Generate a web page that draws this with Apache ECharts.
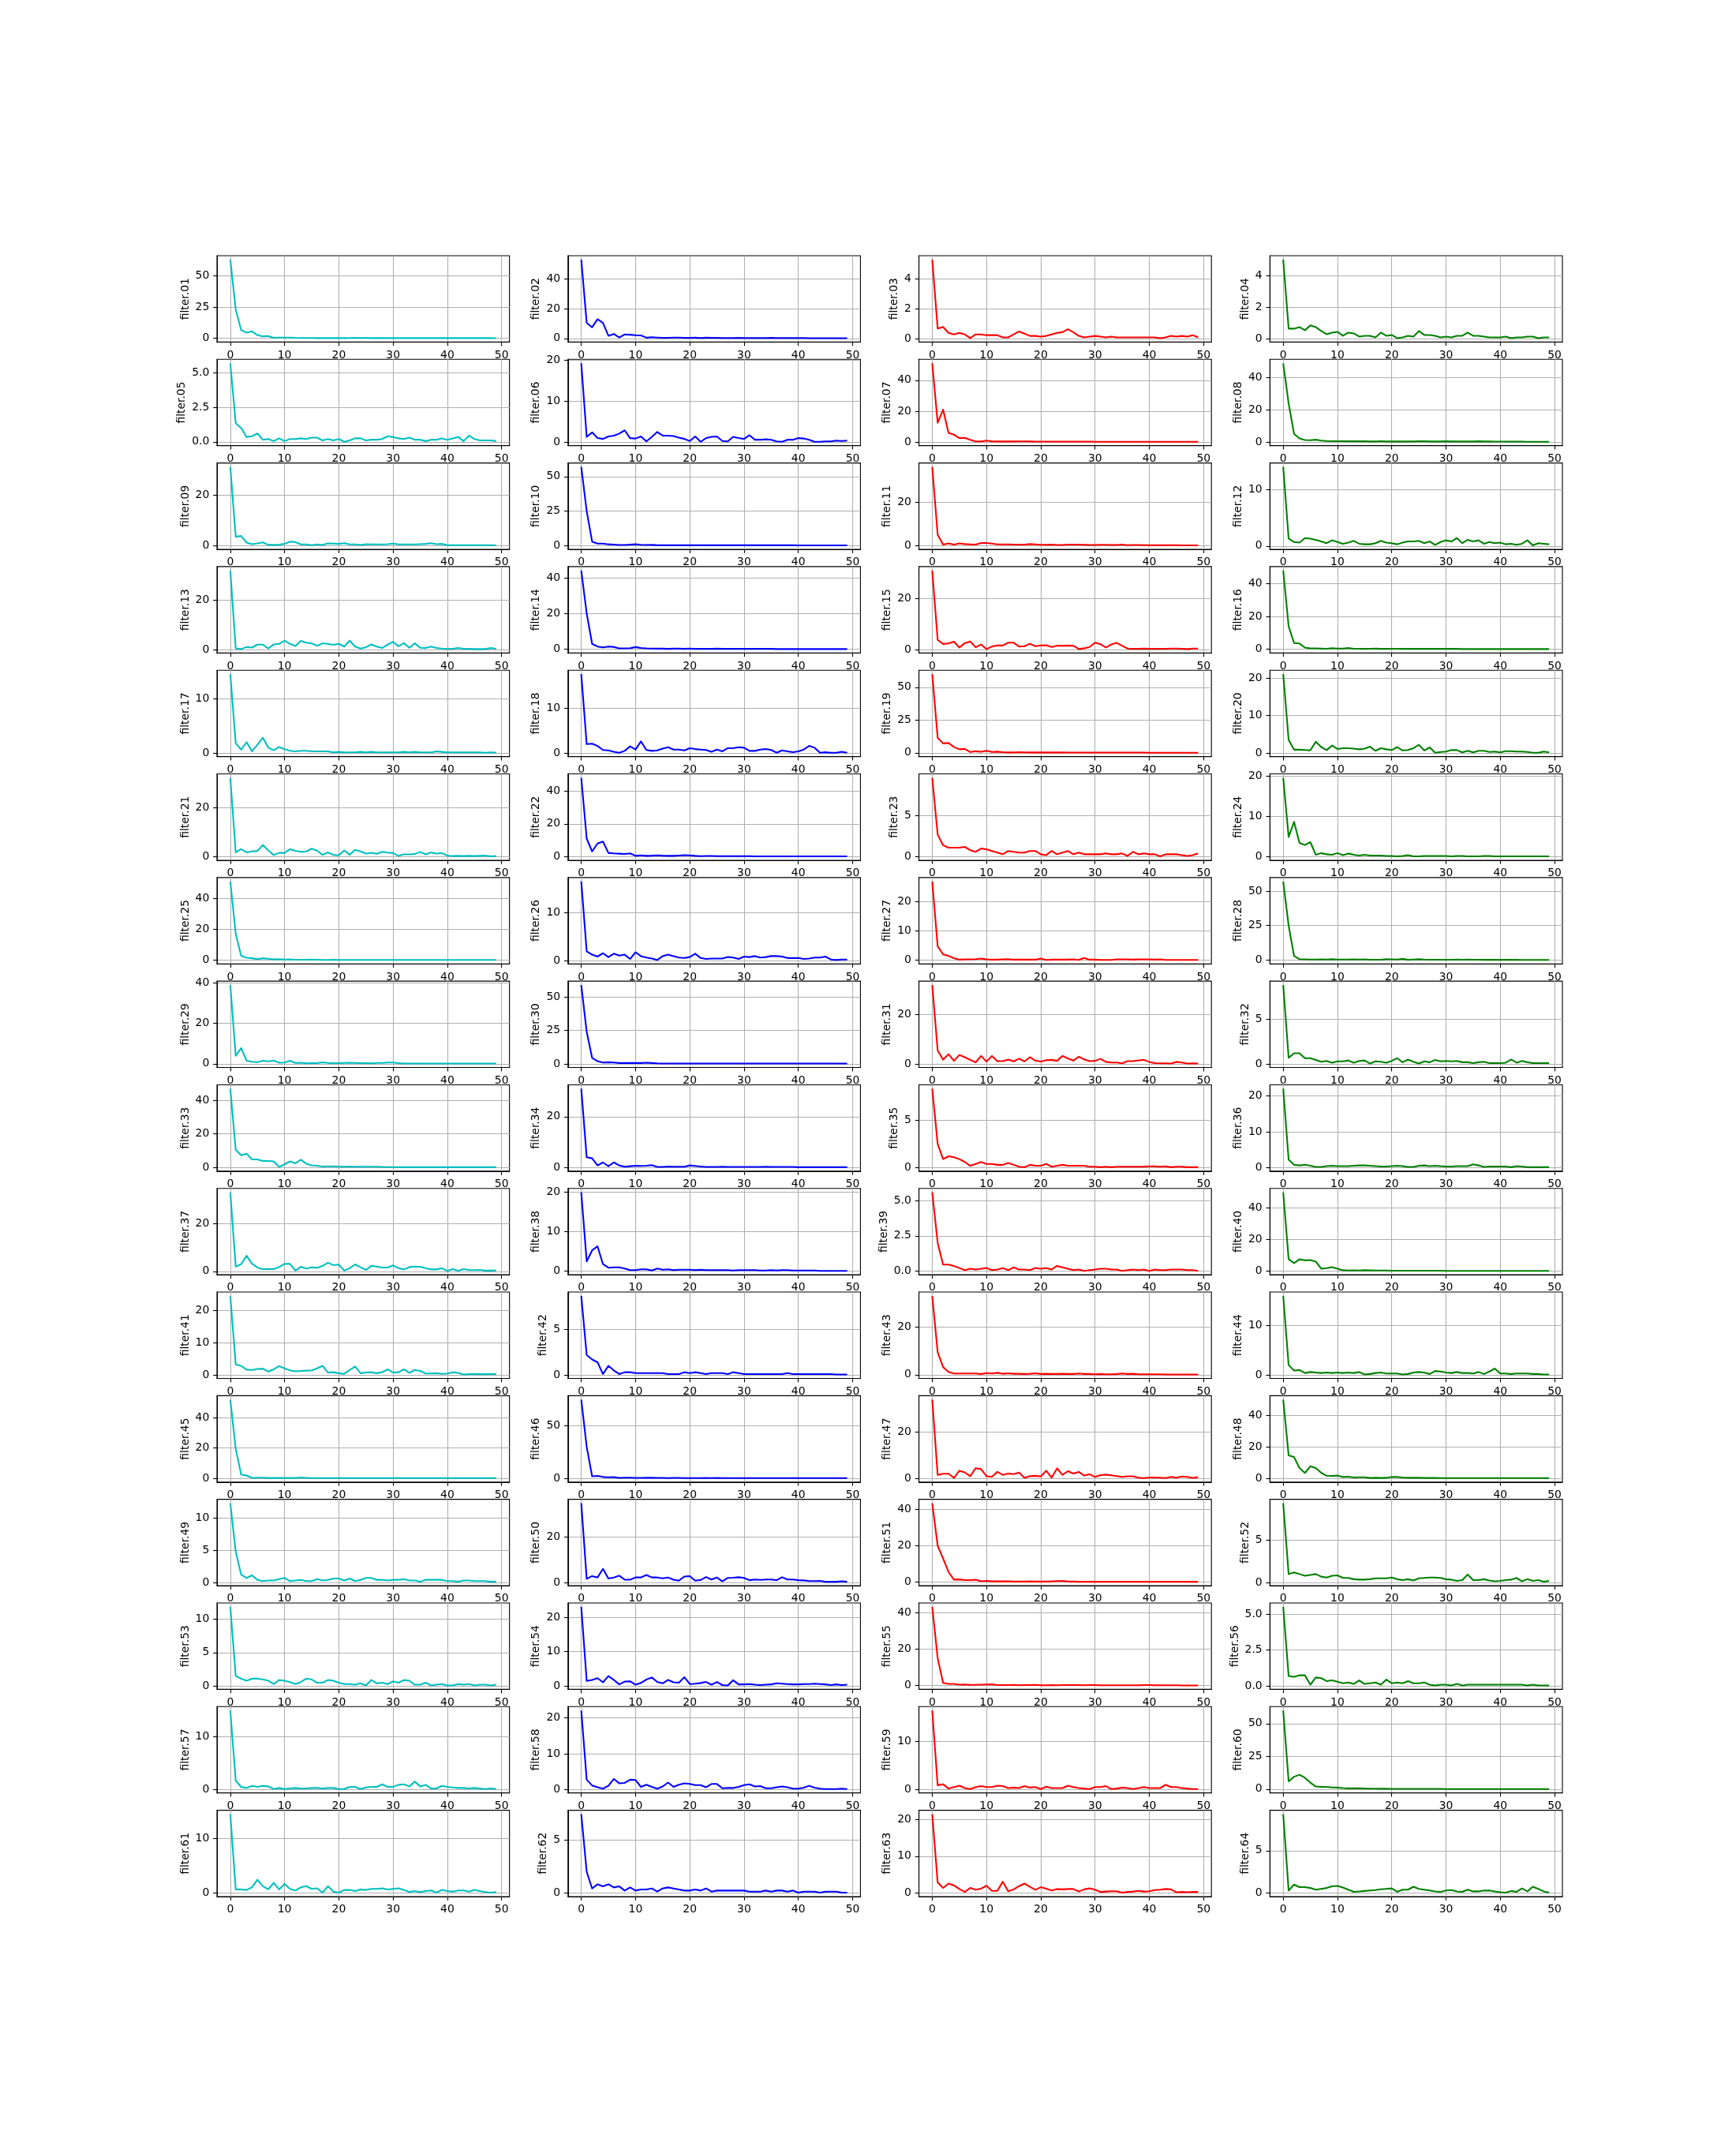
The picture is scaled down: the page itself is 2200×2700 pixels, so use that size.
<!DOCTYPE html>
<html><head><meta charset="utf-8">
<script src="https://cdn.jsdelivr.net/npm/echarts@6/dist/echarts.min.js"></script>
<style>html,body{margin:0;padding:0;background:#fff}#c{width:2200px;height:2700px}</style>
</head><body><div id="c"></div>
<script>
// ---- data (50 samples per filter, x = 0..49) ----
const f01=[63,23,6.5,4.5,5.5,2.5,1.5,1.8,0.3,0.5,0.5,0.5,0.3,0.2,0.2,0.2,0.1,0.1,0.2,0.1,0.1,0.1,0.2,0.3,0.1,0.3,0.1,0.1,0.1,0.1,0.1,0.1,0.1,0.1,0.1,0.1,0.1,0.1,0.1,0.1,0.1,0.1,0.1,0.1,0.1,0.1,0.1,0.1,0.1,0.05];
const f02=[53,10.5,7.5,13,10.5,1.8,3.0,0.6,2.7,2.5,2.2,2.0,0.5,0.8,0.6,0.4,0.4,0.6,0.6,0.4,0.4,0.5,0.3,0.5,0.4,0.4,0.3,0.3,0.3,0.4,0.3,0.3,0.3,0.3,0.3,0.4,0.3,0.3,0.3,0.3,0.3,0.3,0.2,0.2,0.2,0.2,0.2,0.2,0.2,0.2];
const f03=[5.3,0.7,0.8,0.4,0.3,0.4,0.3,0.05,0.3,0.3,0.25,0.25,0.25,0.1,0.1,0.3,0.5,0.35,0.2,0.2,0.15,0.2,0.3,0.4,0.45,0.65,0.45,0.2,0.1,0.15,0.2,0.15,0.1,0.15,0.1,0.1,0.1,0.1,0.1,0.1,0.1,0.1,0.05,0.1,0.2,0.15,0.2,0.15,0.25,0.1];
const f04=[5.0,0.65,0.65,0.75,0.55,0.85,0.75,0.5,0.3,0.4,0.45,0.2,0.4,0.35,0.15,0.2,0.2,0.1,0.4,0.2,0.25,0.05,0.1,0.2,0.15,0.5,0.25,0.25,0.2,0.1,0.15,0.1,0.2,0.2,0.4,0.2,0.2,0.15,0.1,0.1,0.1,0.15,0.05,0.1,0.1,0.15,0.15,0.05,0.1,0.1];
const f05=[5.7,1.35,1.0,0.35,0.4,0.6,0.15,0.2,0.05,0.25,0.05,0.2,0.2,0.25,0.2,0.3,0.3,0.1,0.2,0.1,0.2,0.0,0.1,0.25,0.25,0.1,0.15,0.15,0.2,0.4,0.35,0.25,0.2,0.3,0.15,0.15,0.05,0.15,0.15,0.25,0.15,0.25,0.35,0.05,0.45,0.2,0.1,0.1,0.1,0.05];
const f06=[19.3,1.3,2.4,1.0,0.8,1.4,1.6,2.1,2.9,1.0,0.9,1.4,0.2,1.3,2.5,1.6,1.6,1.5,1.1,0.8,0.3,1.4,0.1,1.0,1.3,1.4,0.3,0.2,1.3,1.0,0.8,1.7,0.6,0.6,0.7,0.6,0.2,0.1,0.6,0.6,1.0,0.9,0.6,0.1,0.1,0.2,0.2,0.4,0.3,0.4];
const f07=[51,12.5,21,6.0,4.8,2.6,2.7,1.5,0.5,0.4,1.0,0.5,0.4,0.4,0.4,0.4,0.5,0.5,0.4,0.3,0.3,0.3,0.3,0.3,0.3,0.3,0.3,0.3,0.3,0.3,0.2,0.2,0.2,0.2,0.2,0.2,0.2,0.2,0.2,0.2,0.2,0.2,0.2,0.2,0.2,0.2,0.2,0.2,0.2,0.2];
const f08=[49,24,5.0,2.2,1.2,1.1,1.4,0.8,0.6,0.5,0.5,0.5,0.4,0.4,0.4,0.5,0.3,0.3,0.5,0.3,0.3,0.3,0.3,0.3,0.3,0.5,0.4,0.3,0.3,0.3,0.4,0.3,0.3,0.3,0.3,0.3,0.4,0.3,0.3,0.2,0.2,0.2,0.2,0.2,0.2,0.1,0.1,0.1,0.1,0.1];
const f09=[31,3.5,3.8,1.2,0.6,0.9,1.3,0.3,0.3,0.4,0.7,1.6,1.4,0.5,0.5,0.2,0.5,0.3,0.9,0.8,0.7,1.0,0.5,0.5,0.3,0.6,0.5,0.5,0.5,0.6,0.8,0.5,0.5,0.5,0.5,0.6,0.7,1.0,0.6,0.7,0.2,0.2,0.2,0.2,0.2,0.2,0.2,0.2,0.2,0.1];
const f10=[57,25,3.0,1.5,1.5,1.0,0.8,0.5,0.5,0.8,1.0,0.7,0.5,0.6,0.3,0.3,0.3,0.3,0.3,0.4,0.3,0.4,0.4,0.3,0.3,0.3,0.3,0.3,0.3,0.4,0.3,0.3,0.3,0.3,0.3,0.4,0.3,0.3,0.3,0.3,0.2,0.2,0.2,0.2,0.2,0.2,0.2,0.2,0.2,0.2];
const f11=[36,5.0,0.5,1.0,0.5,1.0,0.7,0.6,0.5,1.2,1.2,0.9,0.6,0.6,0.6,0.5,0.5,0.5,0.7,0.6,0.4,0.4,0.5,0.3,0.3,0.5,0.5,0.5,0.4,0.3,0.3,0.4,0.4,0.3,0.3,0.5,0.2,0.3,0.3,0.2,0.2,0.2,0.2,0.2,0.2,0.2,0.1,0.1,0.1,0.1];
const f12=[14,1.3,0.7,0.6,1.4,1.3,1.1,0.8,0.5,1.0,0.7,0.4,0.6,0.9,0.4,0.3,0.3,0.5,0.9,0.6,0.5,0.3,0.6,0.8,0.8,0.9,0.5,0.8,0.2,0.7,1.0,0.8,1.4,0.5,1.1,0.8,1.0,0.4,0.7,0.5,0.6,0.3,0.4,0.2,0.4,1.0,0.1,0.5,0.4,0.3];
const f13=[32,0.5,0.2,1.0,0.8,2.0,2.0,0.4,2.1,2.3,3.6,2.3,1.4,3.5,2.8,2.5,1.5,2.5,2.3,1.9,2.3,1.2,3.6,1.2,0.4,0.9,2.1,1.2,0.6,2.0,3.1,1.3,2.6,0.7,2.5,0.7,0.6,1.2,0.6,0.4,0.3,0.3,0.6,0.3,0.3,0.2,0.2,0.2,0.6,0.3];
const f14=[44,20,3.0,1.5,1.0,1.5,1.3,0.5,0.5,0.6,1.2,0.7,0.5,0.4,0.3,0.3,0.2,0.3,0.3,0.2,0.4,0.2,0.2,0.2,0.2,0.3,0.2,0.2,0.2,0.2,0.2,0.2,0.2,0.2,0.2,0.2,0.1,0.1,0.1,0.1,0.1,0.1,0.1,0.1,0.1,0.1,0.1,0.1,0.1,0.1];
const f15=[31,3.8,2.2,2.4,3.1,0.8,2.5,3.2,0.9,2.0,0.2,1.2,1.6,1.6,2.7,2.7,1.2,1.3,2.3,1.3,1.6,1.7,1.0,1.5,1.5,1.6,1.5,0.2,0.5,1.0,2.7,2.1,0.8,2.0,2.6,1.5,0.4,0.3,0.3,0.4,0.3,0.3,0.3,0.3,0.4,0.4,0.3,0.2,0.4,0.4];
const f16=[48,14,3.8,3.5,1.0,0.5,0.5,0.4,0.3,0.6,0.4,0.4,0.8,0.3,0.3,0.2,0.3,0.4,0.2,0.2,0.3,0.3,0.2,0.2,0.2,0.2,0.2,0.3,0.2,0.2,0.2,0.2,0.2,0.1,0.1,0.1,0.1,0.1,0.1,0.1,0.1,0.1,0.1,0.1,0.1,0.1,0.1,0.1,0.1,0.1];
const f17=[14.5,1.8,0.6,2.0,0.3,1.5,2.8,1.0,0.5,1.1,0.7,0.4,0.3,0.4,0.4,0.3,0.3,0.3,0.3,0.1,0.2,0.1,0.1,0.1,0.2,0.1,0.2,0.1,0.1,0.1,0.1,0.1,0.2,0.1,0.2,0.1,0.1,0.1,0.3,0.2,0.1,0.1,0.1,0.1,0.1,0.1,0.1,0.05,0.1,0.05];
const f18=[17.5,2.0,2.1,1.6,0.7,0.6,0.3,0.1,0.5,1.5,0.8,2.6,0.7,0.5,0.6,1.0,1.3,0.8,0.8,0.6,1.1,0.9,0.8,0.7,0.3,0.8,0.4,1.1,1.1,1.3,1.2,0.5,0.5,0.8,0.9,0.7,0.1,0.6,0.4,0.2,0.4,0.8,1.6,1.2,0.1,0.2,0.1,0.1,0.3,0.1];
const f19=[60,11.5,7.2,7.5,4.5,2.7,3.0,0.6,1.2,0.8,1.6,0.7,0.9,0.5,0.3,0.4,0.5,0.4,0.3,0.3,0.3,0.3,0.3,0.3,0.3,0.2,0.2,0.2,0.2,0.2,0.2,0.2,0.2,0.2,0.2,0.2,0.2,0.2,0.2,0.2,0.1,0.1,0.1,0.1,0.1,0.1,0.1,0.1,0.1,0.1];
const f20=[21,3.5,0.9,0.9,0.8,0.7,3.0,1.6,0.8,2.0,1.1,1.3,1.3,1.2,1.0,1.2,1.7,0.6,1.3,1.0,0.8,1.6,0.7,0.8,1.3,2.2,0.7,1.5,0.1,0.3,0.4,0.8,0.8,0.2,0.6,0.2,0.6,0.6,0.3,0.4,0.2,0.5,0.5,0.4,0.4,0.3,0.1,0.1,0.4,0.2];
const f21=[32,1.8,3.1,1.8,2.2,2.4,4.8,2.6,0.7,1.6,1.6,3.1,2.4,2.0,2.2,3.3,2.5,0.8,1.8,0.8,0.6,2.6,0.8,2.8,2.2,1.3,1.6,1.2,2.0,1.7,1.5,0.4,1.0,1.0,1.1,2.0,1.0,1.8,1.3,1.5,0.5,0.3,0.4,0.3,0.4,0.3,0.4,0.5,0.2,0.3];
const f22=[48,11,3.2,8.0,9.2,2.3,2.0,1.8,1.6,2.0,0.5,0.8,0.5,0.6,0.8,0.6,0.5,0.5,0.7,0.9,0.8,0.5,0.3,0.4,0.4,0.3,0.3,0.3,0.3,0.3,0.3,0.3,0.2,0.2,0.2,0.2,0.2,0.2,0.2,0.2,0.2,0.2,0.2,0.2,0.2,0.2,0.2,0.2,0.2,0.2];
const f23=[9.6,2.7,1.4,1.1,1.1,1.1,1.2,0.8,0.6,1.0,0.9,0.7,0.5,0.3,0.7,0.6,0.5,0.5,0.7,0.7,0.3,0.2,0.7,0.3,0.5,0.7,0.3,0.5,0.3,0.3,0.3,0.3,0.4,0.3,0.3,0.4,0.1,0.6,0.3,0.4,0.3,0.3,0.05,0.3,0.3,0.3,0.2,0.1,0.2,0.4];
const f24=[19.5,4.9,8.6,3.4,2.9,3.6,0.5,0.9,0.6,0.5,0.9,0.4,0.8,0.5,0.3,0.5,0.3,0.3,0.3,0.2,0.2,0.1,0.2,0.4,0.1,0.1,0.2,0.2,0.2,0.2,0.2,0.1,0.2,0.2,0.1,0.1,0.1,0.2,0.2,0.1,0.1,0.1,0.1,0.1,0.1,0.1,0.1,0.1,0.1,0.1];
const f25=[51,17,2.8,1.5,1.2,0.6,1.2,0.9,0.5,0.6,0.4,0.5,0.2,0.2,0.2,0.3,0.2,0.1,0.1,0.2,0.1,0.1,0.1,0.1,0.1,0.1,0.1,0.1,0.1,0.1,0.1,0.1,0.1,0.1,0.1,0.1,0.1,0.1,0.1,0.1,0.1,0.1,0.1,0.1,0.1,0.1,0.1,0.1,0.1,0.1];
const f26=[16.5,2.0,1.3,0.9,1.6,0.8,1.5,1.1,1.3,0.4,1.8,1.0,0.7,0.5,0.2,1.0,1.3,1.0,0.7,0.6,0.8,1.5,0.6,0.4,0.5,0.5,0.5,0.8,0.7,0.4,0.9,0.8,1.0,0.7,0.8,1.0,1.0,0.9,0.6,0.6,0.6,0.4,0.5,0.7,0.7,0.9,0.3,0.2,0.3,0.3];
const f27=[27,4.8,2.0,1.5,0.7,0.2,0.3,0.3,0.4,0.6,0.3,0.2,0.2,0.3,0.4,0.2,0.2,0.2,0.2,0.2,0.6,0.1,0.2,0.2,0.2,0.2,0.3,0.1,0.8,0.2,0.2,0.1,0.1,0.1,0.3,0.3,0.3,0.2,0.3,0.3,0.3,0.2,0.3,0.1,0.1,0.1,0.1,0.1,0.1,0.1];
const f28=[57,25,3.0,0.6,0.5,0.4,0.4,0.5,0.4,0.6,0.4,0.4,0.4,0.5,0.4,0.5,0.3,0.3,0.3,0.6,0.5,0.4,0.9,0.2,0.4,0.6,0.4,0.3,0.3,0.3,0.3,0.3,0.4,0.3,0.4,0.3,0.3,0.2,0.2,0.2,0.2,0.2,0.2,0.2,0.1,0.1,0.1,0.1,0.1,0.1];
const f29=[39,4.0,7.8,1.5,1.0,0.8,1.5,1.2,1.6,0.5,0.6,1.5,0.4,0.5,0.2,0.3,0.3,0.7,0.4,0.2,0.3,0.4,0.5,0.4,0.3,0.3,0.2,0.4,0.4,0.6,0.6,0.3,0.1,0.1,0.1,0.1,0.1,0.1,0.1,0.1,0.1,0.1,0.1,0.1,0.1,0.1,0.1,0.1,0.1,0.1];
const f30=[59,24,4.5,2.0,1.0,1.2,1.0,0.6,0.7,0.6,0.6,0.6,0.8,0.6,0.4,0.3,0.3,0.3,0.3,0.3,0.3,0.3,0.3,0.3,0.3,0.3,0.3,0.3,0.3,0.3,0.2,0.2,0.2,0.2,0.2,0.2,0.2,0.2,0.2,0.2,0.2,0.2,0.2,0.2,0.2,0.2,0.2,0.2,0.2,0.2];
const f31=[32,5.5,1.8,4.0,1.3,3.7,2.8,1.7,0.7,3.3,1.0,3.3,1.2,1.2,1.8,1.1,2.2,1.1,2.8,1.4,1.0,1.6,1.7,1.3,3.3,2.3,1.4,3.0,1.9,1.2,1.3,2.1,0.9,0.6,0.6,0.3,1.2,1.2,1.5,1.7,0.9,0.4,0.3,0.3,0.2,0.9,0.6,0.2,0.3,0.2];
const f32=[8.8,0.7,1.2,1.2,0.65,0.65,0.45,0.25,0.35,0.15,0.3,0.3,0.4,0.15,0.35,0.4,0.05,0.3,0.25,0.15,0.35,0.65,0.2,0.5,0.25,0.05,0.3,0.2,0.45,0.3,0.35,0.3,0.35,0.2,0.2,0.1,0.2,0.25,0.1,0.1,0.1,0.15,0.5,0.15,0.35,0.2,0.1,0.1,0.1,0.1];
const f33=[47,10.5,7.2,8.2,4.8,4.8,3.8,3.8,3.6,0.3,1.8,3.6,2.4,4.6,2.2,1.2,1.0,0.5,0.6,0.6,0.5,0.4,0.5,0.4,0.4,0.4,0.4,0.4,0.3,0.2,0.2,0.2,0.1,0.1,0.1,0.1,0.1,0.1,0.1,0.1,0.1,0.1,0.1,0.1,0.1,0.1,0.1,0.1,0.1,0.1];
const f34=[31,4.0,3.6,0.8,2.0,0.5,2.0,0.8,0.3,0.5,0.7,0.6,0.7,0.9,0.2,0.2,0.4,0.3,0.3,0.3,0.8,0.6,0.4,0.2,0.2,0.2,0.3,0.2,0.2,0.2,0.2,0.2,0.2,0.2,0.3,0.2,0.2,0.2,0.2,0.2,0.1,0.1,0.1,0.1,0.1,0.1,0.1,0.1,0.1,0.1];
const f35=[8.3,2.5,0.9,1.2,1.1,0.9,0.6,0.2,0.4,0.6,0.4,0.4,0.3,0.3,0.5,0.3,0.1,0.05,0.3,0.2,0.2,0.4,0.1,0.2,0.3,0.2,0.2,0.2,0.2,0.1,0.1,0.05,0.1,0.05,0.1,0.1,0.1,0.1,0.1,0.1,0.15,0.15,0.1,0.15,0.05,0.1,0.1,0.05,0.05,0.05];
const f36=[22,2.2,0.8,0.6,0.8,0.5,0.2,0.2,0.4,0.5,0.4,0.4,0.4,0.5,0.6,0.6,0.5,0.4,0.3,0.3,0.4,0.5,0.4,0.2,0.2,0.5,0.6,0.4,0.5,0.4,0.3,0.3,0.4,0.4,0.4,0.9,0.6,0.2,0.3,0.3,0.3,0.3,0.1,0.4,0.3,0.1,0.1,0.1,0.1,0.1];
const f37=[33,2.0,3.0,6.5,3.2,1.6,0.9,1.0,0.9,1.8,3.1,3.1,0.3,1.9,1.2,1.7,1.4,2.3,3.6,2.6,2.8,0.3,1.3,2.9,1.7,0.6,2.3,2.0,1.6,1.6,2.5,1.3,0.8,1.8,2.0,1.9,1.3,0.8,0.8,1.3,0.2,0.9,0.3,0.9,0.5,0.5,0.6,0.3,0.3,0.4];
const f38=[20,2.5,5.3,6.3,1.8,0.9,1.0,1.0,0.7,0.3,0.3,0.5,0.5,0.2,0.7,0.4,0.5,0.3,0.4,0.4,0.4,0.3,0.4,0.3,0.3,0.3,0.3,0.3,0.2,0.3,0.3,0.3,0.3,0.2,0.2,0.3,0.2,0.3,0.3,0.2,0.2,0.2,0.2,0.2,0.1,0.1,0.1,0.1,0.1,0.1];
const f39=[5.6,2.0,0.45,0.45,0.35,0.2,0.05,0.15,0.1,0.15,0.2,0.05,0.1,0.2,0.05,0.25,0.1,0.1,0.05,0.2,0.15,0.2,0.1,0.35,0.25,0.15,0.05,0.1,0.0,0.05,0.1,0.15,0.15,0.1,0.1,0.0,0.05,0.1,0.05,0.1,0.0,0.1,0.05,0.05,0.1,0.1,0.1,0.05,0.05,0.0];
const f40=[50,7.5,5.0,7.4,6.8,7.0,6.0,1.5,1.8,2.5,1.5,0.5,0.3,0.4,0.3,0.5,0.4,0.3,0.3,0.3,0.2,0.2,0.2,0.2,0.2,0.2,0.2,0.2,0.2,0.2,0.1,0.1,0.1,0.1,0.1,0.1,0.1,0.1,0.1,0.1,0.1,0.1,0.1,0.1,0.1,0.1,0.1,0.1,0.1,0.1];
const f41=[24.5,3.2,2.8,1.6,1.5,1.8,1.9,1.0,1.7,2.7,2.0,1.4,1.1,1.2,1.3,1.4,2.0,2.8,0.7,0.8,0.5,0.3,1.5,2.6,0.5,0.7,0.8,0.5,0.8,1.7,0.7,0.8,1.7,0.6,1.5,1.2,0.4,0.4,0.5,0.3,0.4,0.8,0.6,0.1,0.2,0.3,0.2,0.2,0.3,0.2];
const f42=[8.7,2.2,1.7,1.4,0.1,1.0,0.5,0.1,0.3,0.3,0.2,0.2,0.2,0.2,0.2,0.2,0.1,0.1,0.1,0.3,0.2,0.3,0.2,0.1,0.2,0.2,0.2,0.1,0.3,0.2,0.1,0.1,0.1,0.1,0.1,0.1,0.1,0.1,0.2,0.1,0.1,0.1,0.1,0.1,0.1,0.1,0.1,0.05,0.05,0.05];
const f43=[33,9.5,3.2,1.2,0.5,0.5,0.5,0.5,0.5,0.3,0.7,0.5,0.8,0.4,0.6,0.4,0.4,0.3,0.4,0.6,0.3,0.4,0.3,0.3,0.4,0.3,0.3,0.5,0.3,0.3,0.2,0.3,0.2,0.2,0.3,0.5,0.3,0.4,0.2,0.2,0.2,0.2,0.2,0.1,0.1,0.1,0.1,0.1,0.1,0.1];
const f44=[16,2.0,0.9,1.0,0.4,0.6,0.5,0.4,0.5,0.4,0.5,0.4,0.5,0.4,0.6,0.1,0.2,0.4,0.5,0.3,0.3,0.3,0.1,0.2,0.5,0.6,0.5,0.2,0.8,0.7,0.5,0.4,0.6,0.4,0.4,0.3,0.6,0.2,0.7,1.3,0.3,0.3,0.2,0.3,0.3,0.3,0.2,0.2,0.1,0.1];
const f45=[52,19.5,2.5,1.8,0.3,0.4,0.4,0.2,0.2,0.2,0.2,0.3,0.2,0.5,0.3,0.1,0.1,0.1,0.1,0.1,0.1,0.1,0.1,0.1,0.1,0.1,0.1,0.1,0.1,0.1,0.1,0.1,0.1,0.1,0.1,0.1,0.1,0.1,0.1,0.1,0.1,0.1,0.1,0.1,0.1,0.1,0.1,0.1,0.1,0.1];
const f46=[75,30,1.8,2.2,1.2,0.9,1.0,0.3,0.5,0.5,0.3,0.3,0.4,0.5,0.3,0.3,0.2,0.3,0.3,0.2,0.2,0.2,0.2,0.3,0.2,0.3,0.2,0.2,0.2,0.2,0.2,0.2,0.1,0.1,0.1,0.1,0.1,0.1,0.1,0.1,0.1,0.1,0.1,0.1,0.1,0.1,0.1,0.1,0.1,0.1];
const f47=[34,1.5,2.0,2.0,0.2,3.3,2.6,0.9,4.4,4.0,0.9,0.7,2.8,1.5,2.1,1.8,2.5,0.2,1.0,1.1,0.8,3.3,0.3,4.3,1.5,3.1,2.1,2.8,1.2,1.8,0.6,1.4,1.6,1.3,1.0,0.6,0.9,0.9,0.3,0.1,0.4,0.4,0.3,0.1,0.6,0.3,0.8,0.6,0.2,0.5];
const f48=[50,14.5,13.5,6.5,3.4,7.6,6.5,3.5,1.6,1.5,1.7,0.8,1.0,0.5,0.6,0.6,0.2,0.3,0.2,0.3,0.9,0.8,0.5,0.3,0.4,0.3,0.2,0.2,0.2,0.1,0.1,0.1,0.1,0.1,0.1,0.1,0.1,0.1,0.1,0.1,0.1,0.1,0.1,0.1,0.1,0.1,0.1,0.1,0.1,0.1];
const f49=[12.3,4.8,1.2,0.7,1.1,0.4,0.2,0.3,0.3,0.5,0.7,0.2,0.3,0.4,0.2,0.2,0.5,0.3,0.4,0.6,0.6,0.3,0.6,0.2,0.4,0.7,0.7,0.4,0.4,0.3,0.4,0.4,0.5,0.3,0.3,0.1,0.4,0.4,0.4,0.4,0.2,0.2,0.1,0.3,0.3,0.2,0.2,0.2,0.1,0.1];
const f50=[35,1.6,2.8,2.2,6.0,1.7,2.2,3.0,1.2,1.2,2.2,2.2,3.3,2.2,2.2,1.8,2.2,1.2,0.8,2.6,2.8,0.8,1.1,2.4,1.3,2.2,0.5,2.0,2.1,2.3,2.0,1.0,1.3,1.1,1.3,1.3,1.0,2.3,1.3,1.3,1.0,0.9,0.6,0.6,0.7,0.3,0.3,0.3,0.5,0.3];
const f51=[43.5,20,13,5.5,1.3,1.4,1.0,1.0,1.2,0.4,0.6,0.3,0.4,0.3,0.3,0.2,0.2,0.2,0.3,0.2,0.2,0.2,0.3,0.5,0.6,0.2,0.2,0.1,0.1,0.1,0.1,0.1,0.1,0.1,0.1,0.1,0.1,0.1,0.1,0.1,0.1,0.1,0.1,0.1,0.1,0.1,0.1,0.1,0.1,0.1];
const f52=[9.3,1.0,1.2,1.0,0.8,0.9,1.0,0.7,0.6,0.8,0.85,0.55,0.55,0.4,0.35,0.35,0.4,0.5,0.5,0.5,0.6,0.4,0.3,0.4,0.25,0.5,0.55,0.6,0.6,0.55,0.4,0.35,0.2,0.3,0.95,0.3,0.3,0.4,0.25,0.15,0.2,0.3,0.35,0.55,0.15,0.4,0.2,0.3,0.1,0.2];
const f53=[11.8,1.5,1.1,0.8,1.1,1.1,1.0,0.8,0.3,0.9,0.8,0.6,0.3,0.6,1.1,1.0,0.5,0.5,0.9,0.8,0.5,0.3,0.3,0.2,0.4,0.1,0.9,0.4,0.5,0.3,0.7,0.5,0.9,0.8,0.2,0.2,0.5,0.1,0.2,0.3,0.1,0.1,0.3,0.2,0.3,0.1,0.2,0.2,0.1,0.2];
const f54=[23,1.5,1.8,2.3,1.1,2.9,1.8,0.5,1.3,1.4,0.4,0.9,1.9,2.5,1.2,0.8,1.8,1.1,1.0,2.6,0.6,0.7,0.9,1.2,0.4,1.2,0.3,0.2,1.7,0.5,0.5,0.6,0.4,0.3,0.4,0.5,0.8,0.7,0.6,0.5,0.5,0.6,0.6,0.7,0.6,0.5,0.3,0.5,0.3,0.4];
const f55=[43,15,1.5,0.9,0.9,0.5,0.6,0.4,0.4,0.5,0.6,0.7,0.3,0.3,0.3,0.4,0.2,0.3,0.3,0.4,0.2,0.2,0.3,0.2,0.3,0.3,0.3,0.3,0.2,0.3,0.3,0.2,0.2,0.2,0.2,0.2,0.2,0.2,0.2,0.3,0.3,0.2,0.2,0.2,0.2,0.2,0.1,0.1,0.1,0.1];
const f56=[5.5,0.7,0.65,0.75,0.75,0.1,0.6,0.55,0.35,0.4,0.3,0.2,0.25,0.15,0.4,0.15,0.2,0.25,0.1,0.45,0.2,0.25,0.2,0.35,0.2,0.2,0.25,0.1,0.05,0.1,0.1,0.05,0.15,0.05,0.1,0.1,0.1,0.1,0.1,0.1,0.1,0.1,0.1,0.1,0.1,0.05,0.1,0.05,0.05,0.05];
const f57=[15,1.7,0.5,0.3,0.7,0.5,0.7,0.6,0.1,0.3,0.1,0.2,0.3,0.2,0.2,0.3,0.3,0.2,0.3,0.3,0.1,0.1,0.5,0.5,0.1,0.4,0.5,0.5,1.0,0.5,0.5,0.9,1.0,0.6,1.5,0.6,0.9,0.2,0.2,0.7,0.5,0.4,0.3,0.3,0.2,0.3,0.2,0.1,0.2,0.1];
const f58=[22,2.8,1.2,0.7,0.3,1.1,3.0,1.8,1.9,2.8,2.7,0.8,1.4,0.8,0.3,0.9,2.0,0.8,1.4,1.8,1.6,1.3,1.3,0.7,1.6,1.6,0.4,0.5,0.5,0.8,1.3,1.5,0.9,1.0,0.4,0.4,0.7,0.9,0.7,0.3,0.3,0.6,1.1,0.6,0.3,0.2,0.2,0.2,0.3,0.2];
const f59=[16.5,0.9,1.1,0.2,0.5,0.8,0.3,0.1,0.5,0.7,0.5,0.5,0.8,0.7,0.3,0.4,0.3,0.7,0.4,0.5,0.1,0.6,0.3,0.3,0.3,0.8,0.5,0.3,0.2,0.1,0.5,0.5,0.7,0.1,0.2,0.4,0.3,0.1,0.3,0.5,0.3,0.3,0.3,1.0,0.5,0.5,0.3,0.2,0.1,0.1];
const f60=[60,6.0,9.5,11,8.7,5.0,2.0,1.8,1.7,1.3,1.2,0.8,0.6,0.6,0.6,0.5,0.4,0.4,0.3,0.3,0.2,0.2,0.2,0.2,0.2,0.2,0.2,0.2,0.2,0.2,0.1,0.1,0.1,0.1,0.1,0.1,0.1,0.1,0.1,0.1,0.1,0.1,0.1,0.1,0.1,0.1,0.1,0.1,0.1,0.1];
const f61=[14.5,0.6,0.6,0.5,1.0,2.4,1.2,0.6,1.8,0.6,1.6,0.7,0.4,1.0,1.2,0.7,0.8,0.0,1.2,0.2,0.0,0.5,0.5,0.3,0.6,0.5,0.7,0.7,0.8,0.6,0.7,0.8,0.5,0.1,0.3,0.1,0.3,0.4,0.0,0.5,0.3,0.2,0.4,0.4,0.2,0.5,0.3,0.1,0.0,0.1];
const f62=[7.5,2.0,0.4,0.8,0.6,0.8,0.5,0.6,0.2,0.5,0.2,0.3,0.3,0.4,0.1,0.4,0.5,0.4,0.3,0.2,0.2,0.3,0.2,0.4,0.1,0.2,0.2,0.2,0.2,0.2,0.2,0.1,0.1,0.1,0.2,0.1,0.2,0.2,0.1,0.2,0.0,0.1,0.1,0.1,0.0,0.1,0.1,0.1,0.0,0.0];
const f63=[21.5,2.8,1.3,2.5,2.0,1.0,0.2,1.3,0.8,1.1,1.9,0.5,0.5,3.0,0.4,0.9,1.8,2.5,1.6,0.8,1.5,1.1,0.6,1.0,0.9,1.0,1.0,0.3,0.9,1.2,0.8,0.2,0.3,0.4,0.4,0.0,0.2,0.3,0.5,0.3,0.4,0.7,0.8,1.0,0.9,0.1,0.2,0.1,0.2,0.2];
const f64=[9.3,0.3,1.0,0.7,0.7,0.6,0.4,0.5,0.6,0.8,0.85,0.65,0.4,0.15,0.2,0.25,0.3,0.35,0.45,0.5,0.55,0.15,0.4,0.4,0.75,0.5,0.4,0.3,0.2,0.15,0.3,0.35,0.2,0.15,0.4,0.2,0.2,0.3,0.3,0.2,0.1,0.05,0.25,0.15,0.55,0.2,0.75,0.5,0.2,0.05];

const panels=[f01,f02,f03,f04,f05,f06,f07,f08,f09,f10,f11,f12,f13,f14,f15,f16,
  f17,f18,f19,f20,f21,f22,f23,f24,f25,f26,f27,f28,f29,f30,f31,f32,
  f33,f34,f35,f36,f37,f38,f39,f40,f41,f42,f43,f44,f45,f46,f47,f48,
  f49,f50,f51,f52,f53,f54,f55,f56,f57,f58,f59,f60,f61,f62,f63,f64];

// tick labels
const xTicks=[0,10,20,30,40,50];
const yTicks=[
 [0,25,50],[0,20,40],[0,2,4],[0,2,4],
 [0,2.5,5],[0,10,20],[0,20,40],[0,20,40],
 [0,20],[0,25,50],[0,20],[0,10],
 [0,20],[0,20,40],[0,20],[0,20,40],
 [0,10],[0,10],[0,25,50],[0,10,20],
 [0,20],[0,20,40],[0,5],[0,10,20],
 [0,20,40],[0,10],[0,10,20],[0,25,50],
 [0,20,40],[0,25,50],[0,20],[0,5],
 [0,20,40],[0,20],[0,5],[0,10,20],
 [0,20],[0,10,20],[0,2.5,5],[0,20,40],
 [0,10,20],[0,5],[0,20],[0,10],
 [0,20,40],[0,50],[0,20],[0,20,40],
 [0,5,10],[0,20],[0,20,40],[0,5],
 [0,5,10],[0,10,20],[0,20,40],[0,2.5,5],
 [0,10],[0,10,20],[0,10],[0,25,50],
 [0,10],[0,5],[0,10,20],[0,5]
];
const lineColors=['#00bfbf','#0000ff','#ff0000','#008000'];

// ---- layout (matplotlib subplot geometry) ----
const W=2200,H=2700,NC=4,NR=16;
const L=0.125*W,R=0.9*W,T=0.12*H,B=0.89*H;
const aw=(R-L)/(NC+(NC-1)*0.2), ah=(B-T)/(NR+(NR-1)*0.2);
const FS=13.9, FONT='DejaVu Sans';
const cv=document.createElement('canvas').getContext('2d');
cv.font=FS+'px "DejaVu Sans"';

function fmt(ticks){
  const dec=ticks.some(t=>Math.round(t)!==t);
  return v=>dec?Number(v).toFixed(1):String(Math.round(v));
}

const grids=[],xAxes=[],yAxes=[],series=[];
panels.forEach((vals,k)=>{
  const r=Math.floor(k/NC),c=k%NC;
  grids.push({left:L+c*aw*1.2,top:T+r*ah*1.2,width:aw,height:ah,show:true,
    borderColor:'#000',borderWidth:1.1,backgroundColor:'#fff',containLabel:false});
  const mn=Math.min(...vals),mx=Math.max(...vals),pad=(mx-mn)*0.05;
  const ticks=yTicks[k],f=fmt(ticks);
  const lw=Math.max(...ticks.map(t=>cv.measureText(f(t)).width));
  const axisTxt={fontSize:FS,color:'#000',fontFamily:FONT};
  xAxes.push({gridIndex:k,type:'value',min:-2.45,max:51.45,
    axisLine:{show:true,onZero:false,lineStyle:{color:'#000',width:1.1}},
    axisTick:{show:true,length:4.86,customValues:xTicks,lineStyle:{color:'#000',width:1.1}},
    axisLabel:Object.assign({customValues:xTicks,margin:9.7,formatter:v=>String(v)},axisTxt),
    splitLine:{show:true,lineStyle:{color:'#b0b0b0',width:1.1}}});
  yAxes.push({gridIndex:k,type:'value',min:mn-pad,max:mx+pad,
    axisLine:{show:true,onZero:false,lineStyle:{color:'#000',width:1.1}},
    axisTick:{show:true,length:4.86,customValues:ticks,lineStyle:{color:'#000',width:1.1}},
    axisLabel:Object.assign({customValues:ticks,margin:9.7,formatter:f},axisTxt),
    splitLine:{show:true,lineStyle:{color:'#b0b0b0',width:1.1}},
    name:'filter.'+String(k+1).padStart(2,'0'),nameLocation:'middle',nameRotate:90,
    nameGap:9.7+lw+5.6,nameTextStyle:{fontSize:FS,color:'#000',fontFamily:FONT}});
  series.push({type:'line',xAxisIndex:k,yAxisIndex:k,data:vals.map((v,i)=>[i,v]),
    showSymbol:false,symbol:'none',silent:true,
    lineStyle:{color:lineColors[c],width:2.08,join:'round'},itemStyle:{color:lineColors[c]}});
});

const chart=echarts.init(document.getElementById('c'),null,{renderer:'canvas',width:W,height:H});
chart.setOption({animation:false,backgroundColor:'#fff',grid:grids,xAxis:xAxes,yAxis:yAxes,series:series});
</script></body></html>
